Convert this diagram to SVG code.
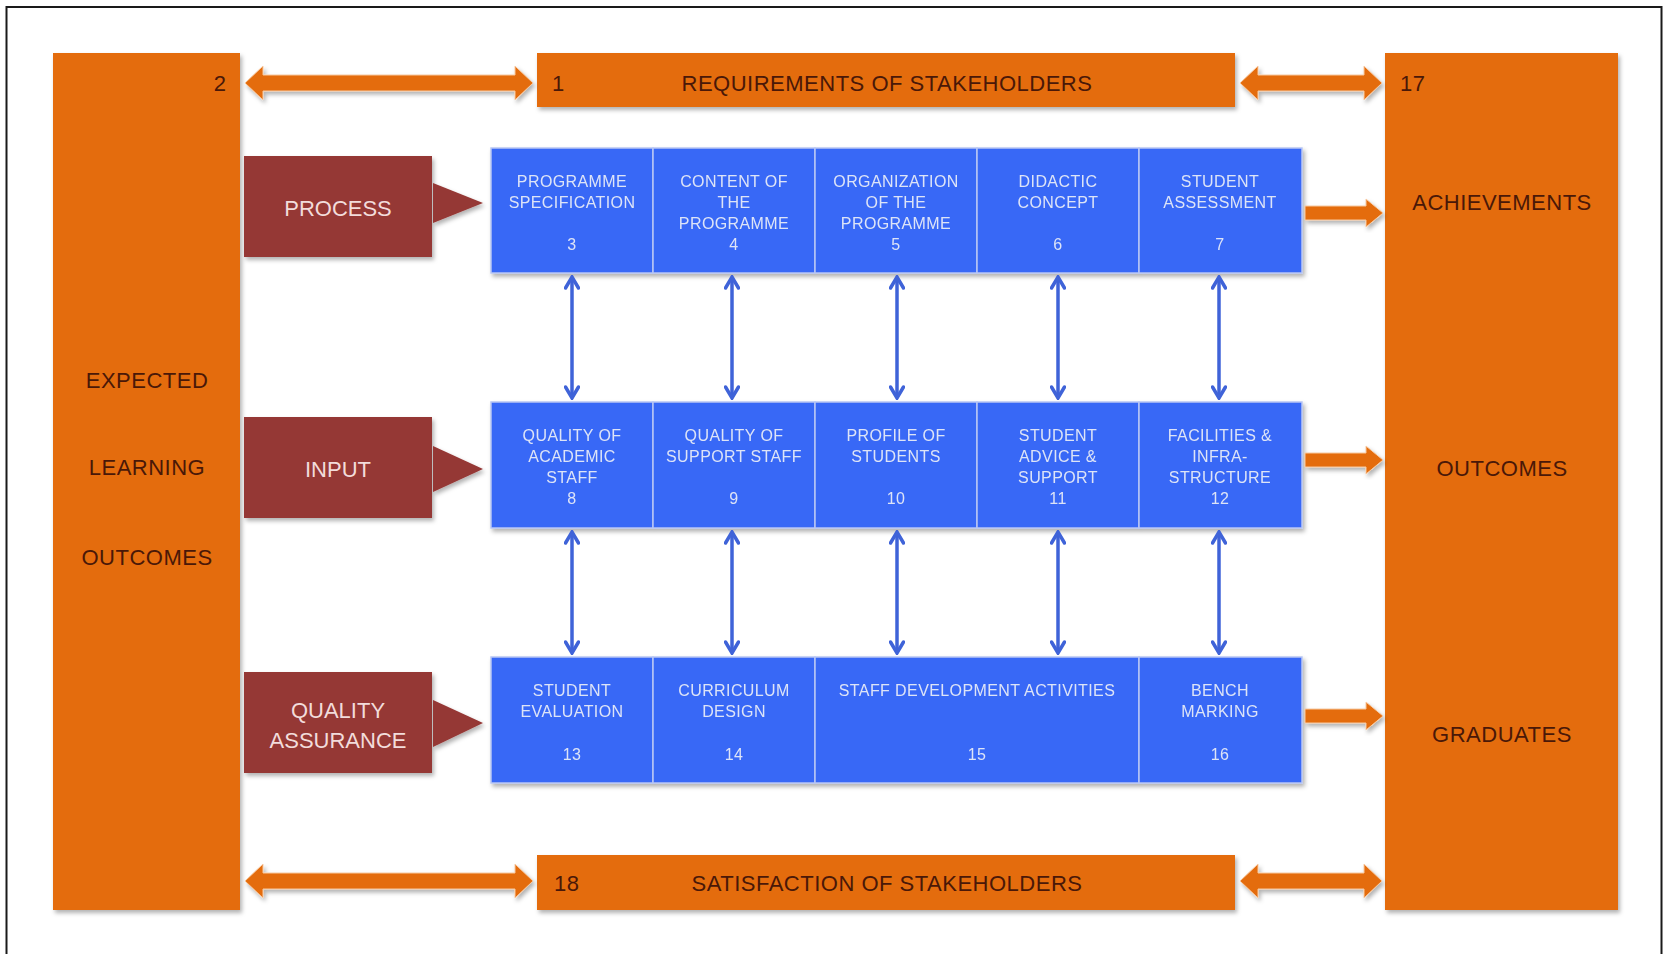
<svg xmlns="http://www.w3.org/2000/svg" width="1665" height="954" viewBox="0 0 1665 954">
<defs>
<filter id="sh" x="-10%" y="-10%" width="130%" height="130%">
<feDropShadow dx="2" dy="3" stdDeviation="2" flood-color="#000" flood-opacity="0.3"/>
</filter>
<marker id="vh" markerUnits="userSpaceOnUse" viewBox="0 0 16 16" markerWidth="16" markerHeight="16" refX="14" refY="8" orient="auto-start-reverse">
<path d="M3,1.5 L14,8 L3,14.5" fill="none" stroke="#3F63D8" stroke-width="3.5" stroke-linecap="round"/>
</marker>
</defs>
<style>
.org{fill:#E46C0A;filter:url(#sh)}
.mar{fill:#953735;filter:url(#sh)}
.blu{fill:#3867F6;stroke:#b8c6f4;stroke-width:1.5}
.oarr{fill:#E46C0A;stroke:#f7c9a2;stroke-width:1;filter:url(#sh)}
.vline{stroke:#3F63D8;stroke-width:3.5;fill:none;marker-start:url(#vh);marker-end:url(#vh)}
.ot{font-family:"Liberation Sans",Arial,sans-serif;font-size:22px;fill:#4a1808;letter-spacing:0.5px}
.mt{font-family:"Liberation Sans",Arial,sans-serif;font-size:22px;fill:#f2dcdb;text-anchor:middle}
.bt{font-family:"Liberation Sans",Arial,sans-serif;font-size:16px;fill:#dde4f7;text-anchor:middle;letter-spacing:0.4px}
</style>
<rect width="1665" height="954" fill="#ffffff"/>
<path d="M6.5,954 V7 H1661.5 V954" fill="none" stroke="#1a1a1a" stroke-width="2"/>

<g id="expected">
<rect class="org" x="53" y="53" width="187" height="857"/>
<text class="ot" x="220" y="91" text-anchor="middle">2</text>
<text class="ot" x="147" y="388" text-anchor="middle">EXPECTED</text>
<text class="ot" x="147" y="475" text-anchor="middle">LEARNING</text>
<text class="ot" x="147" y="565" text-anchor="middle">OUTCOMES</text>
</g>
<g id="results">
<rect class="org" x="1385" y="53" width="233" height="857"/>
<text class="ot" x="1400" y="91">17</text>
<text class="ot" x="1502" y="210" text-anchor="middle">ACHIEVEMENTS</text>
<text class="ot" x="1502" y="476" text-anchor="middle">OUTCOMES</text>
<text class="ot" x="1502" y="742" text-anchor="middle">GRADUATES</text>
</g>
<g id="requirements">
<rect class="org" x="537" y="53" width="698" height="54"/>
<text class="ot" x="552" y="91">1</text>
<text class="ot" x="887" y="91" text-anchor="middle">REQUIREMENTS OF STAKEHOLDERS</text>
</g>
<g id="satisfaction">
<rect class="org" x="537" y="855" width="698" height="55"/>
<text class="ot" x="554" y="891">18</text>
<text class="ot" x="887" y="891" text-anchor="middle">SATISFACTION OF STAKEHOLDERS</text>
</g>

<g id="process">
<rect class="mar" x="244" y="156" width="188" height="101"/>
<polygon class="mar" points="433,183 483,203 433,223"/>
<text class="mt" x="338" y="216">PROCESS</text>
</g>
<g id="input">
<rect class="mar" x="244" y="417" width="188" height="101"/>
<polygon class="mar" points="433,446 483,469 433,492"/>
<text class="mt" x="338" y="477">INPUT</text>
</g>
<g id="qa">
<rect class="mar" x="244" y="672" width="188" height="101"/>
<polygon class="mar" points="433,700 483,723 433,747"/>
<text class="mt" x="338" y="718">QUALITY</text>
<text class="mt" x="338" y="748">ASSURANCE</text>
</g>

<g filter="url(#sh)">
<g id="n3"><rect class="blu" x="491" y="148" width="162" height="125"/>
<text class="bt" x="572" y="187">PROGRAMME</text><text class="bt" x="572" y="208">SPECIFICATION</text><text class="bt" x="572" y="250">3</text></g>
<g id="n4"><rect class="blu" x="653" y="148" width="162" height="125"/>
<text class="bt" x="734" y="187">CONTENT OF</text><text class="bt" x="734" y="208">THE</text><text class="bt" x="734" y="229">PROGRAMME</text><text class="bt" x="734" y="250">4</text></g>
<g id="n5"><rect class="blu" x="815" y="148" width="162" height="125"/>
<text class="bt" x="896" y="187">ORGANIZATION</text><text class="bt" x="896" y="208">OF THE</text><text class="bt" x="896" y="229">PROGRAMME</text><text class="bt" x="896" y="250">5</text></g>
<g id="n6"><rect class="blu" x="977" y="148" width="162" height="125"/>
<text class="bt" x="1058" y="187">DIDACTIC</text><text class="bt" x="1058" y="208">CONCEPT</text><text class="bt" x="1058" y="250">6</text></g>
<g id="n7"><rect class="blu" x="1139" y="148" width="163" height="125"/>
<text class="bt" x="1220" y="187">STUDENT</text><text class="bt" x="1220" y="208">ASSESSMENT</text><text class="bt" x="1220" y="250">7</text></g>

<g id="n8"><rect class="blu" x="491" y="402" width="162" height="126"/>
<text class="bt" x="572" y="441">QUALITY OF</text><text class="bt" x="572" y="462">ACADEMIC</text><text class="bt" x="572" y="483">STAFF</text><text class="bt" x="572" y="504">8</text></g>
<g id="n9"><rect class="blu" x="653" y="402" width="162" height="126"/>
<text class="bt" x="734" y="441">QUALITY OF</text><text class="bt" x="734" y="462">SUPPORT STAFF</text><text class="bt" x="734" y="504">9</text></g>
<g id="n10"><rect class="blu" x="815" y="402" width="162" height="126"/>
<text class="bt" x="896" y="441">PROFILE OF</text><text class="bt" x="896" y="462">STUDENTS</text><text class="bt" x="896" y="504">10</text></g>
<g id="n11"><rect class="blu" x="977" y="402" width="162" height="126"/>
<text class="bt" x="1058" y="441">STUDENT</text><text class="bt" x="1058" y="462">ADVICE &amp;</text><text class="bt" x="1058" y="483">SUPPORT</text><text class="bt" x="1058" y="504">11</text></g>
<g id="n12"><rect class="blu" x="1139" y="402" width="163" height="126"/>
<text class="bt" x="1220" y="441">FACILITIES &amp;</text><text class="bt" x="1220" y="462">INFRA-</text><text class="bt" x="1220" y="483">STRUCTURE</text><text class="bt" x="1220" y="504">12</text></g>

<g id="n13"><rect class="blu" x="491" y="657" width="162" height="126"/>
<text class="bt" x="572" y="696">STUDENT</text><text class="bt" x="572" y="717">EVALUATION</text><text class="bt" x="572" y="760">13</text></g>
<g id="n14"><rect class="blu" x="653" y="657" width="162" height="126"/>
<text class="bt" x="734" y="696">CURRICULUM</text><text class="bt" x="734" y="717">DESIGN</text><text class="bt" x="734" y="760">14</text></g>
<g id="n15"><rect class="blu" x="815" y="657" width="324" height="126"/>
<text class="bt" x="977" y="696">STAFF DEVELOPMENT ACTIVITIES</text><text class="bt" x="977" y="760">15</text></g>
<g id="n16"><rect class="blu" x="1139" y="657" width="163" height="126"/>
<text class="bt" x="1220" y="696">BENCH</text><text class="bt" x="1220" y="717">MARKING</text><text class="bt" x="1220" y="760">16</text></g>
</g>

<g id="connectors">
<polygon class="oarr" points="245,83 263,66 263,75 515,75 515,66 533,83 515,100 515,91 263,91 263,100"/>
<polygon class="oarr" points="1240,83 1258,66 1258,75 1364,75 1364,66 1382,83 1364,100 1364,91 1258,91 1258,100"/>
<polygon class="oarr" points="245,881 263,864 263,873 515,873 515,864 533,881 515,898 515,889 263,889 263,898"/>
<polygon class="oarr" points="1240,881 1258,864 1258,873 1364,873 1364,864 1382,881 1364,898 1364,889 1258,889 1258,898"/>
<polygon class="oarr" points="1305,206 1366,206 1366,199 1383,213 1366,227 1366,220 1305,220"/>
<polygon class="oarr" points="1305,453 1366,453 1366,446 1383,460 1366,474 1366,467 1305,467"/>
<polygon class="oarr" points="1305,709 1366,709 1366,702 1383,716 1366,730 1366,723 1305,723"/>
<line class="vline" x1="572" y1="277" x2="572" y2="398"/>
<line class="vline" x1="732" y1="277" x2="732" y2="398"/>
<line class="vline" x1="897" y1="277" x2="897" y2="398"/>
<line class="vline" x1="1058" y1="277" x2="1058" y2="398"/>
<line class="vline" x1="1219" y1="277" x2="1219" y2="398"/>
<line class="vline" x1="572" y1="532" x2="572" y2="653"/>
<line class="vline" x1="732" y1="532" x2="732" y2="653"/>
<line class="vline" x1="897" y1="532" x2="897" y2="653"/>
<line class="vline" x1="1058" y1="532" x2="1058" y2="653"/>
<line class="vline" x1="1219" y1="532" x2="1219" y2="653"/>
</g>
</svg>
